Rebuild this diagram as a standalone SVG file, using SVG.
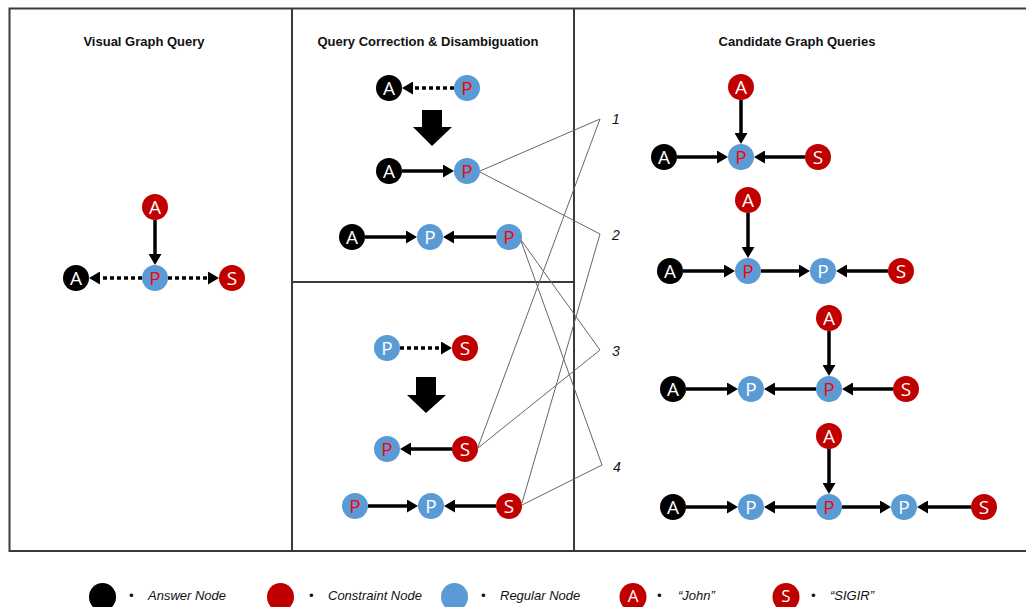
<svg xmlns="http://www.w3.org/2000/svg" width="1026" height="607" viewBox="0 0 1026 607">
<style>
.frame{fill:none;stroke:#3a3a3a;stroke-width:2}
.title{font-family:"Liberation Sans",Arial,sans-serif;font-weight:bold;font-size:13px;fill:#111;text-anchor:middle}
.num{font-family:"Liberation Sans",Arial,sans-serif;font-style:italic;font-size:14px;fill:#111}
.leg{font-family:"Liberation Sans",Arial,sans-serif;font-style:italic;font-size:13px;fill:#111}
.ans{fill:#000}
.con{fill:#c00000}
.reg{fill:#5b9bd5}
.lw{font-family:"Open Sans","Noto Sans",sans-serif;font-size:19px;fill:#fff;text-anchor:middle}
.lr{font-family:"Open Sans","Noto Sans",sans-serif;font-size:19px;fill:#f00;text-anchor:middle}
.ll{font-family:"Open Sans","Noto Sans",sans-serif;font-size:17px;fill:#fff;text-anchor:middle}
.e{stroke:#000;stroke-width:3.5;fill:none;marker-end:url(#ah)}
.d{stroke:#000;stroke-width:3.5;fill:none;stroke-dasharray:4 3;marker-end:url(#ah)}
.c{stroke:#666;stroke-width:1;fill:none}
</style>
<defs>
<marker id="ah" markerUnits="userSpaceOnUse" markerWidth="11" markerHeight="13" refX="0" refY="6.5" orient="auto">
<path d="M0,0 L11,6.5 L0,13 z" fill="#000"/>
</marker>
</defs>
<rect x="0" y="0" width="1026" height="607" fill="#fff"/>

<g id="frames">
<path class="frame" d="M1030,8.5 H9.5 V551 H1030"/>
<line class="frame" x1="292" y1="8.5" x2="292" y2="551"/>
<line class="frame" x1="574" y1="8.5" x2="574" y2="551"/>
<line class="frame" x1="292" y1="282" x2="574" y2="282"/>
</g>

<g id="titles">
<text class="title" x="144" y="46">Visual Graph Query</text>
<text class="title" x="428" y="46">Query Correction &amp; Disambiguation</text>
<text class="title" x="797" y="46">Candidate Graph Queries</text>
</g>

<g id="connectors">
<!-- mapping lines -->
<polyline class="c" points="480,171 600,119 478,447"/>
<polyline class="c" points="480,172 600,234 522,503"/>
<polyline class="c" points="521,240 600,350 478,448"/>
<polyline class="c" points="521,241 602,465 522,505"/>
<!-- left panel -->
<line class="e" x1="155" y1="220" x2="155" y2="254"/>
<line class="d" x1="142" y1="278" x2="100" y2="278"/>
<line class="d" x1="168" y1="278" x2="208" y2="278"/>
<!-- middle top -->
<line class="d" x1="454" y1="88" x2="413" y2="88"/>
<line class="e" x1="402" y1="171" x2="443" y2="171"/>
<line class="e" x1="365" y1="237" x2="406" y2="237"/>
<line class="e" x1="496" y1="237" x2="454" y2="237"/>
<!-- middle bottom -->
<line class="d" x1="400" y1="348" x2="441" y2="348"/>
<line class="e" x1="452" y1="449" x2="411" y2="449"/>
<line class="e" x1="368" y1="506" x2="407" y2="506"/>
<line class="e" x1="496" y1="506" x2="455" y2="506"/>
<!-- C1 -->
<line class="e" x1="741" y1="100" x2="741" y2="133"/>
<line class="e" x1="677" y1="157" x2="717" y2="157"/>
<line class="e" x1="805" y1="157" x2="765" y2="157"/>
<!-- C2 -->
<line class="e" x1="748" y1="213" x2="748" y2="247"/>
<line class="e" x1="683" y1="271" x2="724" y2="271"/>
<line class="e" x1="761" y1="271" x2="799" y2="271"/>
<line class="e" x1="888" y1="271" x2="847" y2="271"/>
<!-- C3 -->
<line class="e" x1="829" y1="331" x2="829" y2="365"/>
<line class="e" x1="686" y1="389" x2="727" y2="389"/>
<line class="e" x1="816" y1="389" x2="775" y2="389"/>
<line class="e" x1="893" y1="389" x2="853" y2="389"/>
<!-- C4 -->
<line class="e" x1="829" y1="449" x2="829" y2="483"/>
<line class="e" x1="686" y1="507" x2="727" y2="507"/>
<line class="e" x1="816" y1="507" x2="775" y2="507"/>
<line class="e" x1="842" y1="507" x2="880" y2="507"/>
<line class="e" x1="971" y1="507" x2="928" y2="507"/>
</g>

<g id="bigarrows">
<polygon points="422,110 442,110 442,127 452,127 432,146 413,127 422,127" fill="#000"/>
<polygon points="416,377 436,377 436,395 446,395 426,413 407,395 416,395" fill="#000"/>
</g>

<g id="labels">
<text class="num" x="612" y="124">1</text>
<text class="num" x="612" y="240">2</text>
<text class="num" x="612" y="356">3</text>
<text class="num" x="613" y="472">4</text>
</g>

<!-- left panel nodes -->
<g id="vq-a"><circle class="con" cx="155" cy="207" r="13"/><text class="lw" x="155" y="214">A</text></g>
<g id="vq-p"><circle class="reg" cx="155" cy="278" r="13"/><text class="lr" x="155" y="285">P</text></g>
<g id="vq-ans"><circle class="ans" cx="76" cy="278" r="13"/><text class="lw" x="76" y="285">A</text></g>
<g id="vq-s"><circle class="con" cx="232" cy="278" r="13"/><text class="lw" x="232" y="285">S</text></g>

<!-- middle top -->
<g id="m1-a"><circle class="ans" cx="389" cy="88" r="13"/><text class="lw" x="389" y="95">A</text></g>
<g id="m1-p"><circle class="reg" cx="467" cy="88" r="13"/><text class="lr" x="467" y="95">P</text></g>
<g id="m2-a"><circle class="ans" cx="389" cy="171" r="13"/><text class="lw" x="389" y="178">A</text></g>
<g id="m2-p"><circle class="reg" cx="467" cy="171" r="13"/><text class="lr" x="467" y="178">P</text></g>
<g id="m3-a"><circle class="ans" cx="352" cy="237" r="13"/><text class="lw" x="352" y="244">A</text></g>
<g id="m3-p1"><circle class="reg" cx="430" cy="237" r="13"/><text class="lw" x="430" y="244">P</text></g>
<g id="m3-p2"><circle class="reg" cx="509" cy="237" r="13"/><text class="lr" x="509" y="244">P</text></g>

<!-- middle bottom -->
<g id="m4-p"><circle class="reg" cx="387" cy="348" r="13"/><text class="lw" x="387" y="355">P</text></g>
<g id="m4-s"><circle class="con" cx="465" cy="348" r="13"/><text class="lw" x="465" y="355">S</text></g>
<g id="m5-p"><circle class="reg" cx="387" cy="449" r="13"/><text class="lr" x="387" y="456">P</text></g>
<g id="m5-s"><circle class="con" cx="465" cy="449" r="13"/><text class="lw" x="465" y="456">S</text></g>
<g id="m6-p1"><circle class="reg" cx="355" cy="506" r="13"/><text class="lr" x="355" y="513">P</text></g>
<g id="m6-p2"><circle class="reg" cx="431" cy="506" r="13"/><text class="lw" x="431" y="513">P</text></g>
<g id="m6-s"><circle class="con" cx="509" cy="506" r="13"/><text class="lw" x="509" y="513">S</text></g>

<!-- candidates -->
<g id="c1-a"><circle class="con" cx="741" cy="87" r="13"/><text class="lw" x="741" y="94">A</text></g>
<g id="c1-p"><circle class="reg" cx="741" cy="157" r="13"/><text class="lr" x="741" y="164">P</text></g>
<g id="c1-ans"><circle class="ans" cx="664" cy="157" r="13"/><text class="lw" x="664" y="164">A</text></g>
<g id="c1-s"><circle class="con" cx="818" cy="157" r="13"/><text class="lw" x="818" y="164">S</text></g>

<g id="c2-a"><circle class="con" cx="748" cy="200" r="13"/><text class="lw" x="748" y="207">A</text></g>
<g id="c2-p"><circle class="reg" cx="748" cy="271" r="13"/><text class="lr" x="748" y="278">P</text></g>
<g id="c2-ans"><circle class="ans" cx="670" cy="271" r="13"/><text class="lw" x="670" y="278">A</text></g>
<g id="c2-p2"><circle class="reg" cx="823" cy="271" r="13"/><text class="lw" x="823" y="278">P</text></g>
<g id="c2-s"><circle class="con" cx="901" cy="271" r="13"/><text class="lw" x="901" y="278">S</text></g>

<g id="c3-a"><circle class="con" cx="829" cy="318" r="13"/><text class="lw" x="829" y="325">A</text></g>
<g id="c3-p"><circle class="reg" cx="829" cy="389" r="13"/><text class="lr" x="829" y="396">P</text></g>
<g id="c3-ans"><circle class="ans" cx="673" cy="389" r="13"/><text class="lw" x="673" y="396">A</text></g>
<g id="c3-p1"><circle class="reg" cx="751" cy="389" r="13"/><text class="lw" x="751" y="396">P</text></g>
<g id="c3-s"><circle class="con" cx="906" cy="389" r="13"/><text class="lw" x="906" y="396">S</text></g>

<g id="c4-a"><circle class="con" cx="829" cy="436" r="13"/><text class="lw" x="829" y="443">A</text></g>
<g id="c4-p"><circle class="reg" cx="829" cy="507" r="13"/><text class="lr" x="829" y="514">P</text></g>
<g id="c4-ans"><circle class="ans" cx="673" cy="507" r="13"/><text class="lw" x="673" y="514">A</text></g>
<g id="c4-p1"><circle class="reg" cx="751" cy="507" r="13"/><text class="lw" x="751" y="514">P</text></g>
<g id="c4-p2"><circle class="reg" cx="904" cy="507" r="13"/><text class="lw" x="904" y="514">P</text></g>
<g id="c4-s"><circle class="con" cx="984" cy="507" r="13"/><text class="lw" x="984" y="514">S</text></g>

<!-- legend -->
<g id="legend">
<ellipse class="ans" cx="102.5" cy="597" rx="13.5" ry="14"/>
<text class="leg" x="129" y="600">•</text>
<text class="leg" x="148" y="600">Answer Node</text>
<ellipse class="con" cx="280.5" cy="597" rx="13.5" ry="14"/>
<text class="leg" x="309" y="600">•</text>
<text class="leg" x="328" y="600">Constraint Node</text>
<ellipse class="reg" cx="454.5" cy="597" rx="13.5" ry="14"/>
<text class="leg" x="481" y="600">•</text>
<text class="leg" x="500" y="600">Regular Node</text>
<ellipse class="con" cx="633" cy="597" rx="13.5" ry="14"/>
<text class="ll" x="633" y="602">A</text>
<text class="leg" x="657" y="600">•</text>
<text class="leg" x="678" y="600">“John”</text>
<ellipse class="con" cx="786" cy="597" rx="13.5" ry="14"/>
<text class="ll" x="786" y="602">S</text>
<text class="leg" x="811" y="600">•</text>
<text class="leg" x="830" y="600">“SIGIR”</text>
</g>
</svg>
